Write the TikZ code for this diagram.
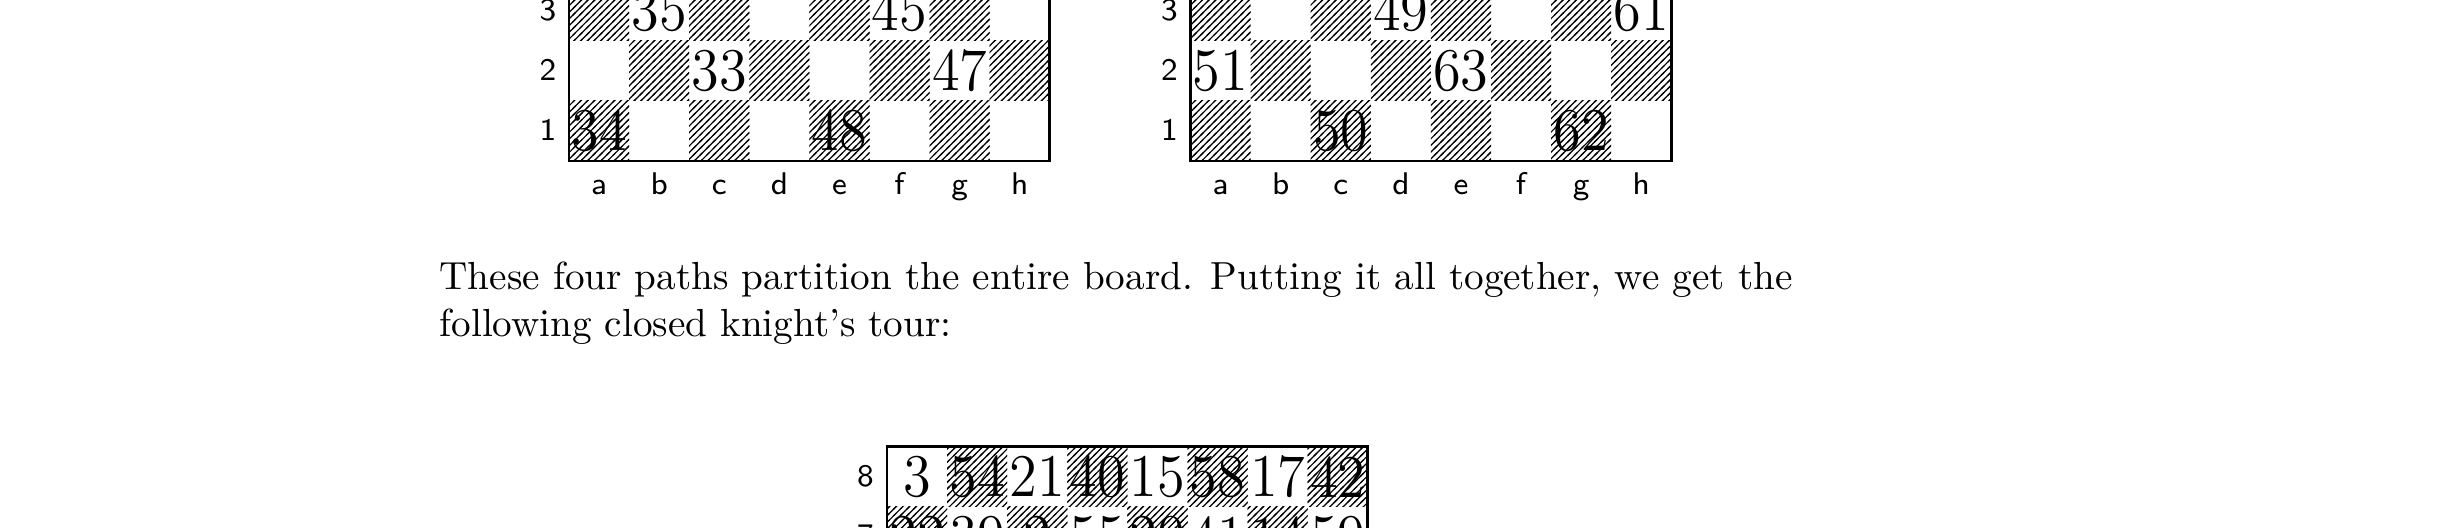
\documentclass[tikz,border=0pt]{standalone}
\usepackage{graphicx}
\usetikzlibrary{patterns}
\pgfdeclarepatternformonly{chesshatch}{\pgfqpoint{-1pt}{-1pt}}{\pgfqpoint{3.222pt}{3.222pt}}{\pgfqpoint{2.222pt}{2.222pt}}{%
  \pgfsetlinewidth{0.4pt}%
  \pgfpathmoveto{\pgfqpoint{-0.5pt}{-0.5pt}}%
  \pgfpathlineto{\pgfqpoint{2.722pt}{2.722pt}}%
  \pgfusepath{stroke}}
\newcommand\docsc[1]{\scalebox{1.303}{#1}}
\newcommand\numtxt[1]{\scalebox{1.303}[1.40]{\fontsize{14.4}{17}\selectfont #1}}
\newcommand\lbltxt[1]{\docsc{\sffamily\fontsize{8}{9.5}\selectfont #1}}
\tikzset{
  darksq/.style={pattern=chesshatch},
  frameline/.style={line width=0.9pt},
  num/.style={inner sep=0pt},
  lbl/.style={inner sep=0pt},
  bodytext/.style={inner sep=0pt, anchor=base west}
}
\begin{document}
\begin{tikzpicture}[x=0.33278pt, y=-0.33278pt]
\useasboundingbox (0,0) rectangle (2448,528);
\fill[white] (0,0) rectangle (2448,528);
\clip (0,0) rectangle (2448,528);
\def\sq{60.1}
% ---------- top boards: rows 1-3 ----------
\foreach \bx/\bn in {569/L, 1190.5/R}{
  \foreach \c in {1,...,8}{
    \foreach \r in {1,2,3,4}{
      \pgfmathtruncatemacro{\myparity}{mod(\c+\r,2)}
      \ifnum\myparity=0
        \fill[darksq] ({\bx+(\c-1)*\sq},{161-\r*\sq}) rectangle ({\bx+\c*\sq},{161-(\r-1)*\sq});
      \fi
    }
  }
  \draw[frameline] (\bx,-40) |- ({\bx+8*\sq},161) -- ({\bx+8*\sq},-40);
  \foreach \r in {1,2,3}{
    \node[lbl] (\bn-row\r) at ({\bx-21},{161-(\r-0.5)*\sq-1}) {\lbltxt{\r}};
  }
  \foreach \l [count=\c] in {a,b,c,d,e,f,g,h}{
    \node[lbl, anchor=base] (\bn-col\l) at ({\bx+(\c-0.5)*\sq},194.5) {\lbltxt{\l}};
  }
}
% numbers, left board
\foreach \c/\r/\n in {2/3/35, 6/3/45, 3/2/33, 7/2/47, 1/1/34, 5/1/48}{
  \node[num] (L-\c-\r) at ({569+(\c-0.5)*\sq},{161-(\r-0.5)*\sq}) {\numtxt{\n}};
}
% numbers, right board
\foreach \c/\r/\n in {4/3/49, 8/3/61, 1/2/51, 5/2/63, 3/1/50, 7/1/62}{
  \node[num] (R-\c-\r) at ({1190.5+(\c-0.5)*\sq},{161-(\r-0.5)*\sq}) {\numtxt{\n}};
}
% ---------- paragraph ----------
\node[bodytext] (para) at (439,289.5) {\docsc{\parbox[t]{345.5pt}{\fontsize{10}{12}\selectfont\noindent These four paths partition the entire board. Putting it all together, we get the\linebreak following closed knight’s tour:}}};
% ---------- bottom board: rows 8 and 7 ----------
\def\tx{887}
\def\ty{446.7}
\foreach \c in {1,...,8}{
  \foreach \r in {8,7,6}{
    \pgfmathtruncatemacro{\myparity}{mod(\c+\r,2)}
    \ifnum\myparity=0
      \fill[darksq] ({\tx+(\c-1)*\sq},{\ty+(8-\r)*\sq}) rectangle ({\tx+\c*\sq},{\ty+(9-\r)*\sq});
    \fi
  }
}
\draw[frameline] (\tx,600) |- ({\tx+8*\sq},\ty) -- ({\tx+8*\sq},600);
\foreach \r in {8,7}{
  \node[lbl] (B-row\r) at ({\tx-21.5},{\ty+(8.5-\r)*\sq-1}) {\lbltxt{\r}};
}
\foreach \n [count=\c] in {3,54,21,40,15,58,17,42}{
  \node[num] (B-\c-8) at ({\tx+(\c-0.5)*\sq},{\ty+0.5*\sq}) {\numtxt{\n}};
}
\foreach \n [count=\c] in {22,39,2,55,20,41,14,59}{
  \node[num] (B-\c-7) at ({\tx+(\c-0.5)*\sq},{\ty+1.5*\sq}) {\numtxt{\n}};
}
\end{tikzpicture}
\end{document}
